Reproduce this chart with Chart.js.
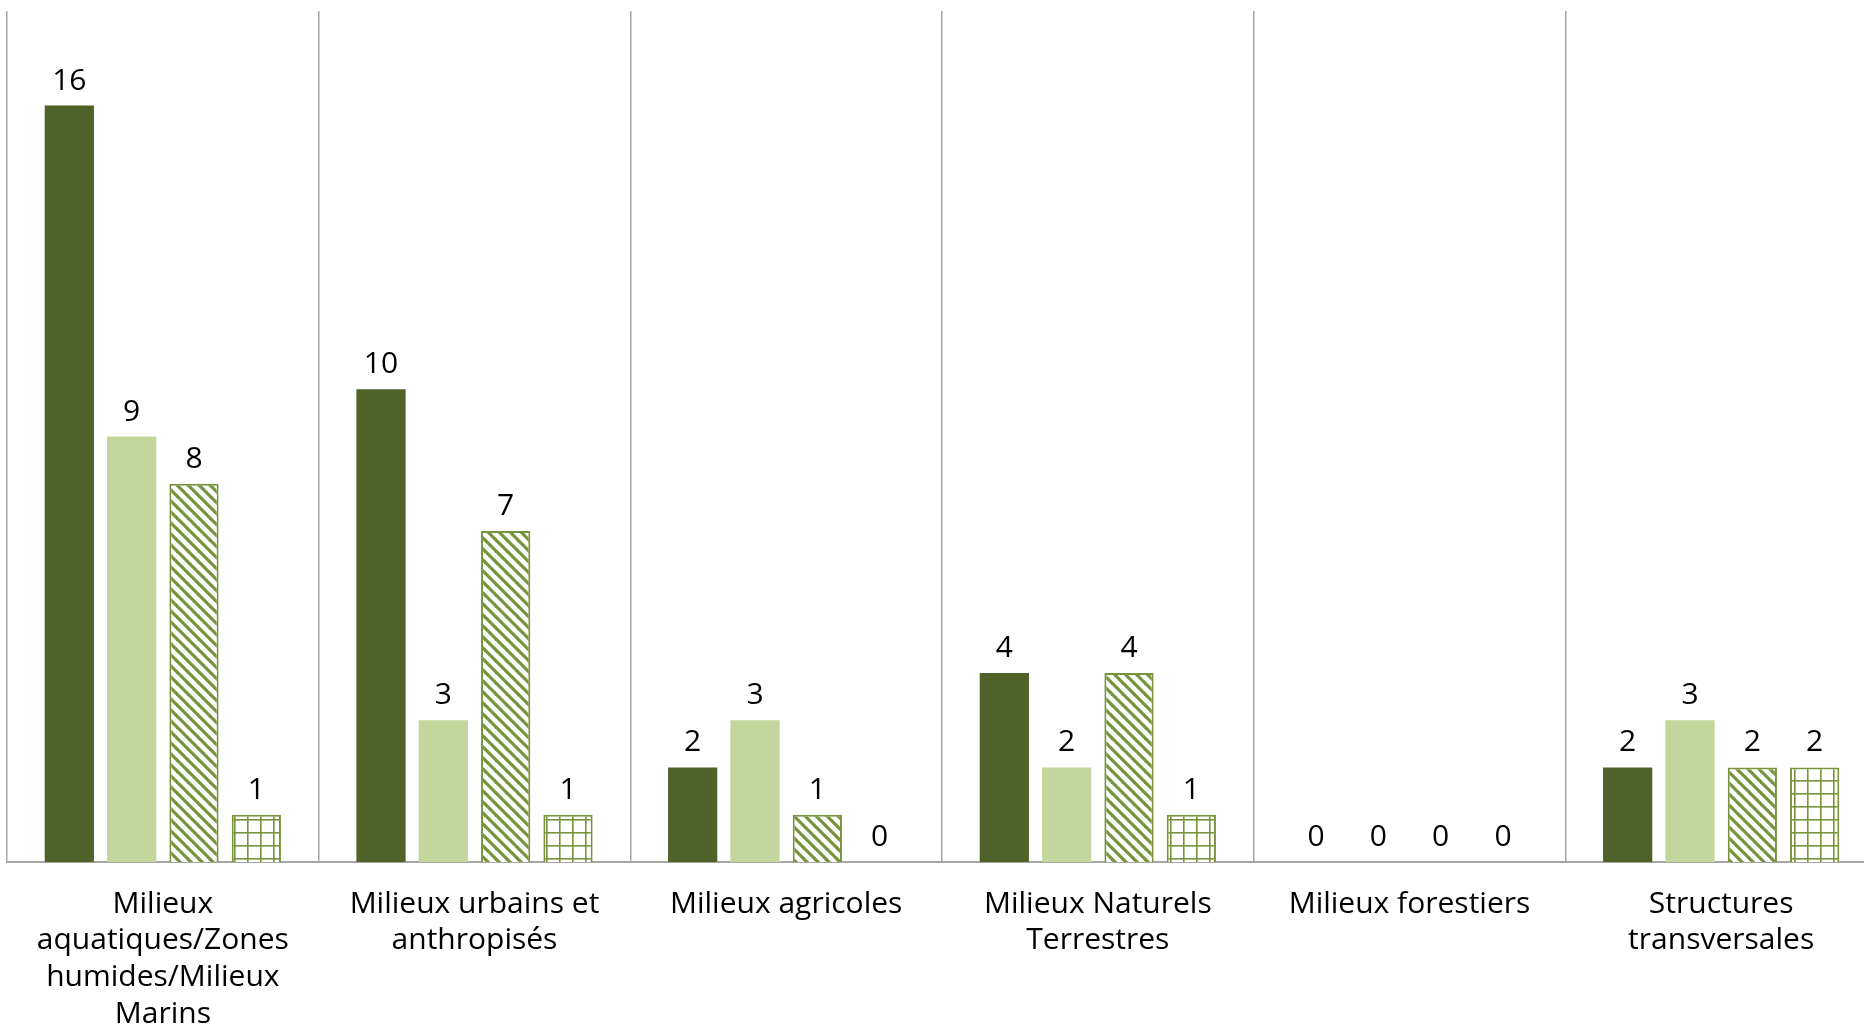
<!DOCTYPE html>
<html>
<head>
<meta charset="utf-8">
<script src="https://cdn.jsdelivr.net/npm/chart.js@4"></script>
<style>
  html, body { margin: 0; padding: 0; background: #fff; overflow: hidden; }
  #wrap { position: relative; width: 1878px; height: 1030px; }
</style>
</head>
<body>
<div id="wrap"><canvas id="c"></canvas></div>
<script>
const categories = [
  ["Milieux", "aquatiques/Zones", "humides/Milieux", "Marins"],
  ["Milieux urbains et", "anthropisés"],
  ["Milieux agricoles"],
  ["Milieux Naturels", "Terrestres"],
  ["Milieux forestiers"],
  ["Structures", "transversales"]
];
const series1 = [16, 10, 2, 4, 0, 2];
const series2 = [9, 3, 3, 2, 0, 3];
const series3 = [8, 7, 1, 4, 0, 2];
const series4 = [1, 1, 0, 1, 0, 2];
const yMax = 18;

const FONT = "'Open Sans', sans-serif";
const DARK = '#4f6228', LIGHT = '#c3d69b', PAT = '#77933c';

function hatchPattern() {
  const s = 11;
  const c = document.createElement('canvas');
  c.width = s; c.height = s;
  const g = c.getContext('2d');
  g.fillStyle = '#fff'; g.fillRect(0, 0, s, s);
  g.strokeStyle = PAT; g.lineWidth = 3.2;
  for (const k of [-s, 0, s]) {
    g.beginPath(); g.moveTo(k - 1, -1); g.lineTo(k + s + 1, s + 1); g.stroke();
  }
  return g.createPattern(c, 'repeat');
}
function gridPattern() {
  const s = 13;
  const c = document.createElement('canvas');
  c.width = s; c.height = s;
  const g = c.getContext('2d');
  g.fillStyle = '#fff'; g.fillRect(0, 0, s, s);
  g.fillStyle = PAT;
  g.fillRect(0, 0, 1.6, s);
  g.fillRect(0, 0, s, 1.6);
  return g.createPattern(c, 'repeat');
}

const valueLabels = {
  id: 'valueLabels',
  afterDatasetsDraw(chart) {
    const ctx = chart.ctx;
    ctx.save();
    ctx.font = "500 30px " + FONT;
    ctx.fillStyle = '#000';
    ctx.textAlign = 'center';
    ctx.textBaseline = 'alphabetic';
    chart.data.datasets.forEach((ds, i) => {
      chart.getDatasetMeta(i).data.forEach((bar, j) => {
        ctx.fillText(String(ds.data[j]), bar.x, bar.y - 16);
      });
    });
    ctx.restore();
  }
};

new Chart(document.getElementById('c'), {
  type: 'bar',
  data: {
    labels: categories,
    datasets: [
      { data: series1, backgroundColor: DARK, borderWidth: 0 },
      { data: series2, backgroundColor: LIGHT, borderWidth: 0 },
      { data: series3, backgroundColor: hatchPattern(), borderColor: PAT, borderWidth: 2 },
      { data: series4, backgroundColor: gridPattern(), borderColor: PAT, borderWidth: 2 }
    ]
  },
  options: {
    responsive: true,
    maintainAspectRatio: false,
    animation: false,
    categoryPercentage: 0.80,
    barPercentage: 0.79,
    layout: { padding: { left: 7, right: 1, top: 11, bottom: 0 } },
    plugins: { legend: { display: false }, tooltip: { enabled: false } },
    scales: {
      x: {
        grid: { display: true, offset: true, color: '#a6a6a6', lineWidth: 1.5, drawTicks: false },
        border: { display: true, color: '#a6a6a6', width: 2 },
        ticks: {
          color: '#000',
          font: { family: FONT, size: 30, weight: '500', lineHeight: 1.22 },
          padding: 24,
          maxRotation: 0,
          autoSkip: false
        },
        afterFit(scale) { scale.height = 168; }
      },
      y: {
        display: false,
        min: 0,
        max: yMax
      }
    }
  },
  plugins: [valueLabels]
});
</script>
</body>
</html>
